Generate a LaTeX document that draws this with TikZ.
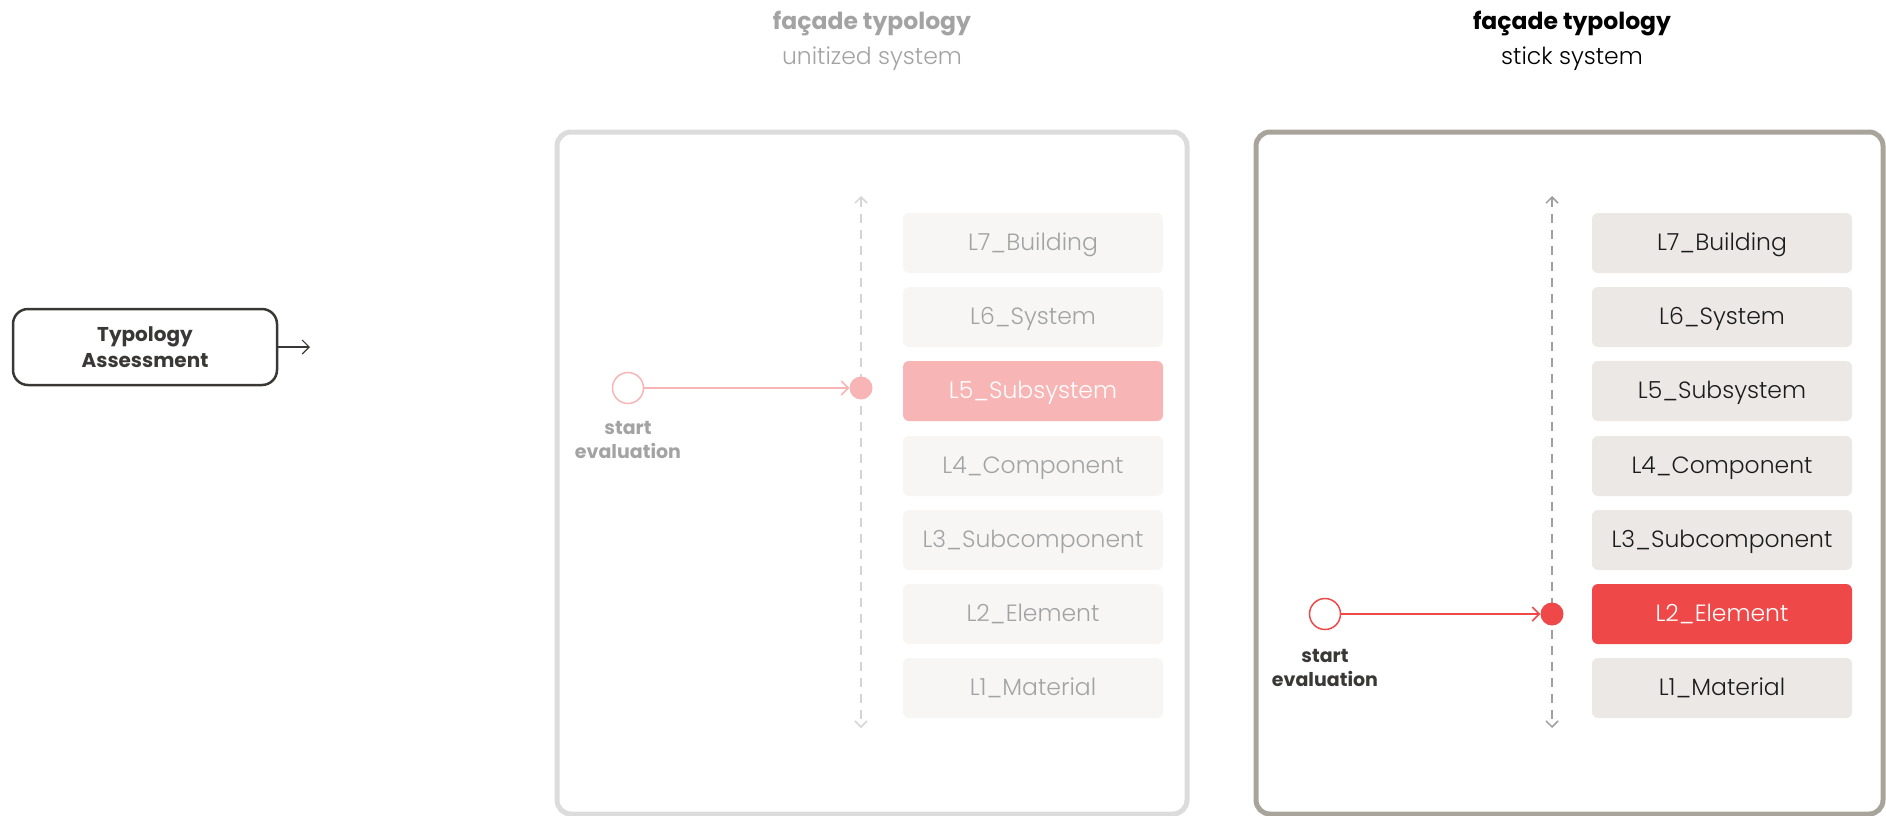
\documentclass[tikz,border=0pt]{standalone}
\usepackage{fontspec}
\setmainfont{Poppins}
\newfontfamily\levelfont{Poppins Light}
\usetikzlibrary{positioning, arrows.meta}

\definecolor{inkdark}{HTML}{3A3836}
\definecolor{panelpale}{HTML}{DCDCDC}
\definecolor{panelstone}{HTML}{A8A49C}
\definecolor{levelpale}{HTML}{F7F6F5}
\definecolor{levelstone}{HTML}{ECE8E6}
\definecolor{textpale}{HTML}{A3A3A3}
\definecolor{textdark}{HTML}{1C1C1C}
\definecolor{pinkhit}{HTML}{F8B5B5}
\definecolor{redhit}{HTML}{EF4848}
\definecolor{dashpale}{HTML}{D5D5D5}
\definecolor{dashstone}{HTML}{9E9E9E}

\tikzset{
  panel/.style={draw, line width=5pt, rounded corners=14pt},
  level/.style={rectangle, rounded corners=6pt, minimum width=260pt, minimum height=60pt, inner sep=0pt, text height=17pt, text depth=3pt, font=\levelfont\fontsize{23.5}{26}\selectfont},
  ulevel/.style={level, fill=levelpale, text=textpale},
  slevel/.style={level, fill=levelstone, text=textdark},
  axis/.style={line width=1.5pt, dash pattern=on 9pt off 7pt, {Straight Barb[length=6pt,width=12pt]}-{Straight Barb[length=6pt,width=12pt]}},
  startring/.style={circle, draw, fill=white, line width=1.5pt, minimum size=31pt, inner sep=0pt},
  hitdot/.style={circle, minimum size=23pt, inner sep=0pt},
  hitline/.style={line width=1.5pt, -{Straight Barb[length=7pt,width=14pt]}},
  startlabel/.style={align=center, inner sep=0pt, font=\fontsize{19}{24}\selectfont\bfseries}
}

\begin{document}
\begin{tikzpicture}[x=1pt, y=-1pt, font=\fontsize{23.5}{35}\selectfont]
\useasboundingbox (0,0) rectangle (1886,815);

% typology assessment
\node[rectangle, rounded corners=15pt, draw=inkdark, line width=2.5pt, minimum width=264pt, minimum height=76pt, align=center, text=inkdark, font=\fontsize{20}{26}\selectfont\bfseries] (typo) at (145,347) {Typology\\Assessment};
\coordinate (typoout) at (310,347);
\draw[inkdark, line width=1.2pt, -{Straight Barb[length=7pt,width=14pt]}] (typo) -- (typoout);

% unitized system
\node[text=textpale, align=center] (utitle) at (872,41) {\textbf{façade typology}\\{\levelfont unitized system}};
\draw[panel, panelpale] (557,132) rectangle (1187,814);
\coordinate (utop) at (861,196);
\coordinate (ubot) at (861,728);
\draw[axis, dashpale] (utop) -- (ubot);
\node[ulevel] (u7) at (1033,243) {L7\_Building};
\node[ulevel] (u6) at (1033,317) {L6\_System};
\node[ulevel, fill=pinkhit, text=white] (u5) at (1033,391) {L5\_Subsystem};
\node[ulevel] (u4) at (1033,466) {L4\_Component};
\node[ulevel] (u3) at (1033,540) {L3\_Subcomponent};
\node[ulevel] (u2) at (1033,614) {L2\_Element};
\node[ulevel] (u1) at (1033,688) {L1\_Material};
\node[startring, draw=pinkhit] (ustart) at (628,388) {};
\node[hitdot, fill=pinkhit] (udot) at (861,388) {};
\draw[hitline, pinkhit] (ustart) -- (udot);
\node[startlabel, text=textpale, below=17pt of ustart] (ulabel) {start\\evaluation};

% stick system
\node[text=black, align=center] (stitle) at (1572,41) {\textbf{façade typology}\\{\levelfont stick system}};
\draw[panel, panelstone] (1256,132) rectangle (1883,814);
\coordinate (stop) at (1552,196);
\coordinate (sbot) at (1552,728);
\draw[axis, dashstone] (stop) -- (sbot);
\node[slevel] (s7) at (1722,243) {L7\_Building};
\node[slevel] (s6) at (1722,317) {L6\_System};
\node[slevel] (s5) at (1722,391) {L5\_Subsystem};
\node[slevel] (s4) at (1722,466) {L4\_Component};
\node[slevel] (s3) at (1722,540) {L3\_Subcomponent};
\node[slevel, fill=redhit, text=white] (s2) at (1722,614) {L2\_Element};
\node[slevel] (s1) at (1722,688) {L1\_Material};
\node[startring, draw=redhit] (sstart) at (1325,614) {};
\node[hitdot, fill=redhit] (sdot) at (1552,614) {};
\draw[hitline, redhit] (sstart) -- (sdot);
\node[startlabel, text=inkdark, below=19pt of sstart] (slabel) {start\\evaluation};
\end{tikzpicture}
\end{document}
